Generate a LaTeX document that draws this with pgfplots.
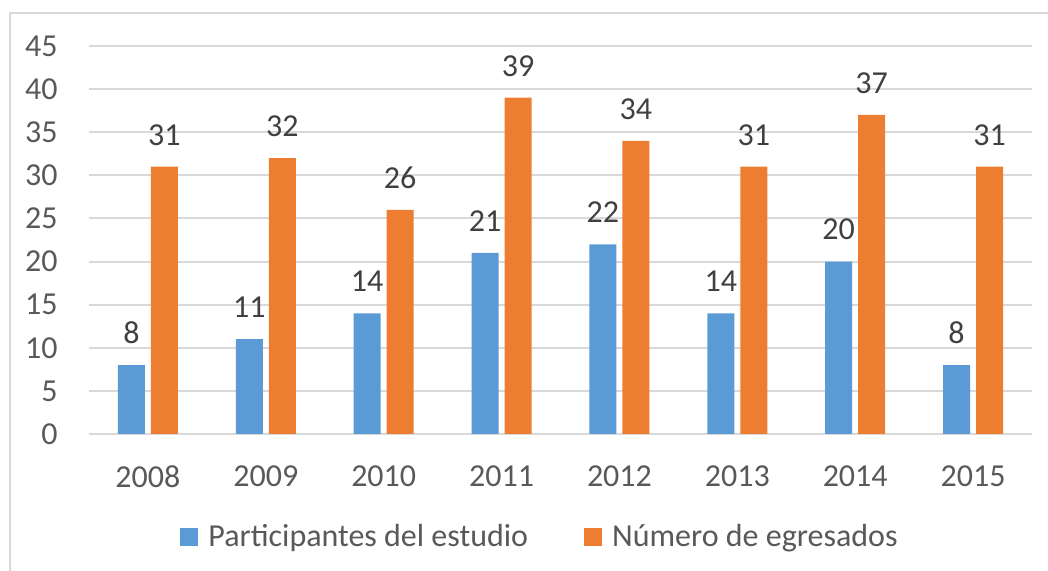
\documentclass[border=0pt]{standalone}
\usepackage{fontspec}
\setmainfont{Carlito}
\usepackage{pgfplots}
\pgfplotsset{compat=1.18}
\definecolor{barblue}{HTML}{5B9BD5}
\definecolor{barorange}{HTML}{ED7D31}
\definecolor{gridgray}{HTML}{D9D9D9}
\definecolor{ticktext}{HTML}{595959}
\definecolor{labeltext}{HTML}{404040}
\newcommand{\chartfont}{\fontsize{16}{19.5}\selectfont}

\begin{document}
\begin{tikzpicture}
\useasboundingbox (-44.5pt,-68.5pt) rectangle (479.5pt,217pt);
\draw[gridgray, line width=1pt] (-39.5pt,-80pt) -- (-39.5pt,210.5pt) -- (490pt,210.5pt);
\begin{axis}[
  scale only axis,
  width=471.5pt, height=194pt,
  at={(0,0)}, anchor=south west,
  ybar=3pt,
  bar width=13.5pt,
  xmin=-0.5, xmax=7.5,
  ymin=0, ymax=45,
  xtick=data,
  xticklabels={2008,2009,2010,2011,2012,2013,2014,2015},
  ytick={0,5,...,45},
  /pgf/number format/assume math mode=true,
  major tick length=0pt,
  axis line style={draw=none},
  ymajorgrids,
  grid style={gridgray, line width=1pt},
  tick label style={font=\chartfont, text=ticktext, inner sep=0pt},
  yticklabel style={anchor=east, xshift=-15.5pt},
  xticklabel style={anchor=north, yshift=-15.5pt},
  nodes near coords,
  every node near coord/.append style={font=\chartfont, text=labeltext,
    anchor=south, inner sep=0pt, yshift=10.5pt},
  legend style={at={(0.4793,-0.2655)}, anchor=center, draw=none,
    font=\chartfont, text=ticktext, legend columns=-1,
    /tikz/every odd column/.append style={column sep=3pt},
    /tikz/every even column/.append style={column sep=26pt}},
  legend image code/.code={\fill[#1] (0pt,-4.5pt) rectangle (9pt,4.5pt);},
]
\addplot[fill=barblue, draw=none] coordinates
  {(0,8) (1,11) (2,14) (3,21) (4,22) (5,14) (6,20) (7,8)};
\addplot[fill=barorange, draw=none] coordinates
  {(0,31) (1,32) (2,26) (3,39) (4,34) (5,31) (6,37) (7,31)};
\legend{Participantes del estudio, Número de egresados}
\end{axis}
\end{tikzpicture}
\end{document}
